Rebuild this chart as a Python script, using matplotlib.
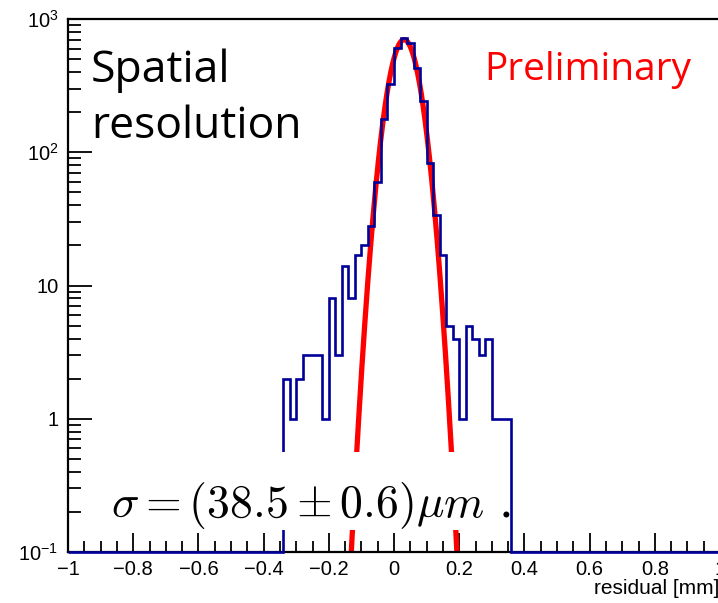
import numpy as np
import matplotlib
matplotlib.use('Agg')
import matplotlib.pyplot as plt
from matplotlib.patches import Rectangle
from matplotlib.ticker import FixedLocator, FixedFormatter, LogLocator, NullFormatter

plt.rcParams['font.family'] = 'Liberation Sans'
plt.rcParams['mathtext.fontset'] = 'custom'
plt.rcParams['mathtext.rm'] = 'Liberation Sans'
plt.rcParams['mathtext.it'] = 'Liberation Sans:italic'

# residual histogram, 0.02 mm bins, only the filled range [-0.34, 0.36)
first_edge = -0.34
bin_width = 0.02
counts = [2, 1, 2, 3, 3, 3, 1, 8, 3, 14, 8, 17, 20, 28, 60, 178, 325, 603,
          716, 664, 431, 243, 83, 34, 17, 5, 4, 1, 5, 4, 3, 4, 1, 1, 1]

# gaussian fit
fit_amp = 700.0
fit_mean = 0.031
fit_sigma = 0.0385

x_ticks = [-1, -0.8, -0.6, -0.4, -0.2, 0, 0.2, 0.4, 0.6, 0.8, 1]
x_tick_labels = ['\u22121', '\u22120.8', '\u22120.6', '\u22120.4', '\u22120.2',
                 '0', '0.2', '0.4', '0.6', '0.8', '1']
y_ticks = [0.1, 1, 10, 100, 1000]
y_tick_labels = ['$10^{-1}$', '1', '10', '$10^{2}$', '$10^{3}$']

# full -1..1 axis binning; empty bins sit on the lower edge like ROOT draws them
edges = np.round(np.arange(-1, 1 + bin_width / 2, bin_width), 4)
values = np.zeros(len(edges) - 1)
start = int(round((first_edge + 1) / bin_width))
values[start:start + len(counts)] = counts
ymin, ymax = 0.1, 1000
values = np.where(values > 0, values, ymin)

W, H = 718, 603
fig = plt.figure(figsize=(W / 100, H / 100), dpi=100)
ax = fig.add_axes([68 / W, (H - 552) / H, (720 - 68) / W, (552 - 19) / H])

def px(x, y):
    # figure pixel (from top-left) -> figure fraction
    return x / W, 1 - y / H

xf = np.linspace(-1, 1, 2001)
yf = fit_amp * np.exp(-0.5 * ((xf - fit_mean) / fit_sigma) ** 2)
ax.plot(xf, yf, color='red', lw=3.8, zorder=2)
ax.stairs(values, edges, baseline=None, color='#000099', lw=1.9, zorder=3,
          clip_on=False)

ax.set_yscale('log')
ax.set_xlim(-1, 1)
ax.set_ylim(ymin, ymax)

ax.xaxis.set_major_locator(FixedLocator(x_ticks))
ax.xaxis.set_major_formatter(FixedFormatter(x_tick_labels))
ax.xaxis.set_minor_locator(FixedLocator(np.round(np.arange(-1, 1.001, 0.05), 3)))
ax.yaxis.set_major_locator(FixedLocator(y_ticks))
ax.yaxis.set_major_formatter(FixedFormatter(y_tick_labels))
ax.yaxis.set_minor_locator(LogLocator(base=10, subs=np.arange(2, 10)))
ax.yaxis.set_minor_formatter(NullFormatter())

ax.tick_params(which='both', direction='in', top=False, right=False,
               labelsize=14.5, width=1.3, color='black')
ax.tick_params(axis='x', which='major', length=14, pad=6)
ax.tick_params(axis='x', which='minor', length=8)
ax.tick_params(axis='y', which='major', length=17, pad=7)
ax.tick_params(axis='y', which='minor', length=9)
for s in ax.spines.values():
    s.set_linewidth(1.6)

fig.text(*px(719, 594), 'residual [mm]', fontsize=15, ha='right', va='baseline')

fig.text(*px(91, 82), 'Spatial', family='Open Sans', fontsize=32, va='baseline')
fig.text(*px(91, 138), 'resolution', family='Open Sans', fontsize=32, va='baseline')
fig.text(*px(484, 80), 'Preliminary', family='Open Sans', fontsize=28,
         color='red', va='baseline')

# white box behind the sigma label
x0, y0 = px(95, 530)
x1, y1 = px(509, 452)
fig.add_artist(Rectangle((x0, y0), x1 - x0, y1 - y0, transform=fig.transFigure,
                         facecolor='white', edgecolor='none', zorder=4))
fig.text(*px(111, 517), r'$\sigma = (38.5 \pm 0.6)\mu m$ .', fontsize=33,
         va='baseline', ha='left', math_fontfamily='cm', family='DejaVu Serif',
         zorder=5)

fig.savefig('out.png', dpi=100)
